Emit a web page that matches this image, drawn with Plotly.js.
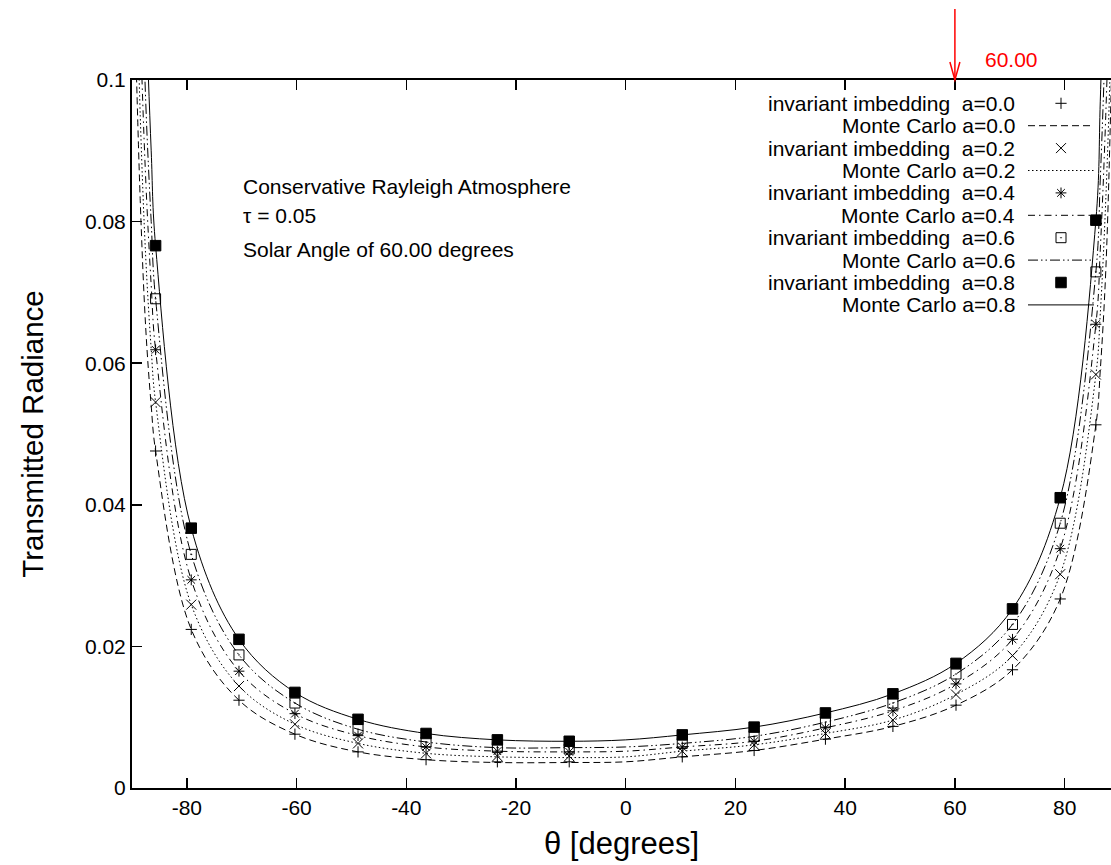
<!DOCTYPE html>
<html>
<head>
<meta charset="utf-8">
<script src="https://cdn.plot.ly/plotly-3.0.1.min.js"></script>
<style>
html,body{margin:0;padding:0;background:#fff;}
#chart{width:1111px;height:865px;}
</style>
</head>
<body>
<div id="chart"></div>
<script>
// ---- data ----
const thetaII = [-85.7, -79.2, -70.5, -60.3, -48.8, -36.4, -23.4, -10.3, 10.3, 23.4, 36.4, 48.7, 60.2, 70.5, 79.2, 85.7];
const ii_a00 = [0.0476, 0.0224, 0.0124, 0.0076, 0.0051, 0.0040, 0.0037, 0.0037, 0.0044, 0.0053, 0.0069, 0.0087, 0.0117, 0.0167, 0.0267, 0.0513];
const ii_a02 = [0.0545, 0.0259, 0.0144, 0.0090, 0.0063, 0.0049, 0.0045, 0.0045, 0.0052, 0.0061, 0.0077, 0.0096, 0.0132, 0.0187, 0.0302, 0.0584];
const ii_a04 = [0.0619, 0.0294, 0.0165, 0.0105, 0.0074, 0.0058, 0.0052, 0.0051, 0.0058, 0.0066, 0.0085, 0.0109, 0.0147, 0.0210, 0.0338, 0.0655];
const ii_a06 = [0.0691, 0.0330, 0.0188, 0.0120, 0.0083, 0.0065, 0.0057, 0.0055, 0.0063, 0.0073, 0.0093, 0.0120, 0.0161, 0.0231, 0.0374, 0.0729];
const ii_a08 = [0.0766, 0.0367, 0.0210, 0.0135, 0.0097, 0.0077, 0.0068, 0.0066, 0.0075, 0.0086, 0.0106, 0.0133, 0.0176, 0.0253, 0.0410, 0.0802];

const thetaMC = [-89.5, -88.5, -87.5, -86.5, -85.7, -79.2, -70.5, -60.3, -48.8, -36.4, -23.4, -10.3, 0, 10.3, 23.4, 36.4, 48.7, 60.2, 70.5, 79.2, 85.7, 86.5, 87.5, 88.5, 89.5];
const mc_a00 = [0.110, 0.083, 0.065, 0.054, 0.0476, 0.0224, 0.0124, 0.0076, 0.0051, 0.0040, 0.0036, 0.0036, 0.0037, 0.0044, 0.0053, 0.0069, 0.0087, 0.0117, 0.0167, 0.0267, 0.0513, 0.059, 0.073, 0.099, 0.135];
const mc_a02 = [0.125, 0.095, 0.075, 0.062, 0.0545, 0.0259, 0.0144, 0.0090, 0.0063, 0.0049, 0.0044, 0.0043, 0.0044, 0.0052, 0.0061, 0.0077, 0.0096, 0.0132, 0.0187, 0.0302, 0.0584, 0.067, 0.083, 0.107, 0.145];
const mc_a04 = [0.140, 0.108, 0.086, 0.071, 0.0619, 0.0294, 0.0165, 0.0105, 0.0074, 0.0058, 0.0052, 0.0051, 0.0052, 0.0058, 0.0066, 0.0085, 0.0109, 0.0147, 0.0210, 0.0338, 0.0655, 0.076, 0.095, 0.122, 0.165];
const mc_a06 = [0.165, 0.125, 0.097, 0.080, 0.0691, 0.0330, 0.0188, 0.0120, 0.0083, 0.0065, 0.0057, 0.0057, 0.0058, 0.0063, 0.0073, 0.0093, 0.0120, 0.0161, 0.0231, 0.0374, 0.0729, 0.086, 0.108, 0.140, 0.190];
const mc_a08 = [0.190, 0.145, 0.112, 0.090, 0.0766, 0.0367, 0.0210, 0.0135, 0.0097, 0.0077, 0.0068, 0.0066, 0.0068, 0.0075, 0.0086, 0.0106, 0.0133, 0.0176, 0.0253, 0.0410, 0.0802, 0.097, 0.127, 0.165, 0.220];

const xTicks = [-80, -60, -40, -20, 0, 20, 40, 60, 80];
const yTicks = [0, 0.02, 0.04, 0.06, 0.08, 0.1];
const yTickText = ['0', '0.02', '0.04', '0.06', '0.08', '0.1'];

const iiLabels = ['invariant imbedding\u00a0 a=0.0', 'invariant imbedding\u00a0 a=0.2', 'invariant imbedding\u00a0 a=0.4', 'invariant imbedding\u00a0 a=0.6', 'invariant imbedding\u00a0 a=0.8'];
const mcLabels = ['Monte Carlo a=0.0', 'Monte Carlo a=0.2', 'Monte Carlo a=0.4', 'Monte Carlo a=0.6', 'Monte Carlo a=0.8'];
const infoLines = ['Conservative Rayleigh Atmosphere', '\u03c4 = 0.05', 'Solar Angle of 60.00 degrees'];
const solarAngle = 60;
const solarLabel = '60.00';

// ---- styles ----
const FONT = 'Liberation Sans, Arial, Helvetica, sans-serif';
const symbols = ['cross-thin-open', 'x-thin-open', 'asterisk-open', 'square-open-dot', 'square'];
const msizes = [8, 10, 9, 10, 10.5];
const dashes = ['7px,4px', '1.5px,2.5px', '7px,4px,1.5px,4px', '10px,3px,1.5px,3px,1.5px,3px', 'solid'];
const iiData = [ii_a00, ii_a02, ii_a04, ii_a06, ii_a08];
const mcData = [mc_a00, mc_a02, mc_a04, mc_a06, mc_a08];

// plot-area geometry in pixels
const L = 132, T = 80, B = 77, W = 1111, H = 865;
const PW = W - L, PH = H - T - B;
const px2x = p => (p - L) / PW;
const py2y = p => (H - B - p) / PH;

const traces = [];
for (let i = 0; i < 5; i++) {
  traces.push({
    x: thetaMC, y: mcData[i], type: 'scatter', mode: 'lines',
    line: {color: '#000', width: 1, dash: dashes[i], shape: 'spline', smoothing: 1},
    showlegend: false, hoverinfo: 'skip'
  });
}
for (let i = 0; i < 5; i++) {
  traces.push({
    x: thetaII, y: iiData[i], type: 'scatter', mode: 'markers',
    marker: {symbol: symbols[i], size: msizes[i], color: '#000', line: {color: '#000', width: 1}},
    showlegend: false, hoverinfo: 'skip', cliponaxis: true
  });
}

// custom gnuplot-style key (text right-aligned, sample on the right)
const keyTop = 103.3, keyStep = 22.4, keyTextRight = 1016, keyMarkX = 1061, keyLineX0 = 1028, keyLineX1 = 1094;
const KEYFONT = 21;
const annotations = [];
const shapes = [];
for (let i = 0; i < 5; i++) {
  const yI = keyTop + keyStep * (2 * i);
  const yM = keyTop + keyStep * (2 * i + 1);
  annotations.push({xref: 'paper', yref: 'paper', x: px2x(keyTextRight), y: py2y(yI), xanchor: 'right', yanchor: 'middle',
    text: iiLabels[i], showarrow: false, borderpad: 0, font: {family: FONT, size: KEYFONT, color: '#000'}});
  annotations.push({xref: 'paper', yref: 'paper', x: px2x(keyTextRight), y: py2y(yM), xanchor: 'right', yanchor: 'middle',
    text: mcLabels[i], showarrow: false, borderpad: 0, font: {family: FONT, size: KEYFONT, color: '#000'}});
  traces.push({
    x: [px2x(keyMarkX)], y: [py2y(yI)], xaxis: 'x2', yaxis: 'y2', type: 'scatter', mode: 'markers',
    marker: {symbol: symbols[i], size: msizes[i], color: '#000', line: {color: '#000', width: 1}},
    showlegend: false, hoverinfo: 'skip'
  });
  traces.push({
    x: [px2x(keyLineX0), px2x(keyLineX1)], y: [py2y(yM), py2y(yM)], xaxis: 'x2', yaxis: 'y2', type: 'scatter', mode: 'lines',
    line: {color: '#000', width: 1, dash: dashes[i]},
    showlegend: false, hoverinfo: 'skip'
  });
}

// info text
const infoY = [187, 215, 250];
for (let i = 0; i < infoLines.length; i++) {
  annotations.push({xref: 'paper', yref: 'paper', x: px2x(242), y: py2y(infoY[i]), xanchor: 'left', yanchor: 'middle',
    text: infoLines[i], showarrow: false, borderpad: 0, font: {family: FONT, size: 21, color: '#000'}});
}

// solar angle arrow + label
shapes.push({type: 'line', xref: 'x', yref: 'paper', x0: solarAngle, x1: solarAngle, y0: py2y(80), y1: py2y(9),
  line: {color: '#ff0000', width: 1.5}});
shapes.push({type: 'path', xref: 'x', yref: 'paper', xsizemode: 'pixel', ysizemode: 'pixel', xanchor: solarAngle, yanchor: py2y(80),
  path: 'M-5,18 L0,0 L5,18', line: {color: '#ff0000', width: 1.5}});
annotations.push({xref: 'paper', yref: 'paper', x: px2x(983), y: py2y(59), xanchor: 'left', yanchor: 'middle',
  text: solarLabel, showarrow: false, font: {family: FONT, size: 21, color: '#ff0000'}});

const layout = {
  width: W, height: H,
  margin: {l: L, r: 0, t: T, b: B, pad: 0},
  paper_bgcolor: '#fff', plot_bgcolor: '#fff',
  showlegend: false,
  font: {family: FONT, size: 21, color: '#000'},
  xaxis: {
    range: [-90, -90 + PW / 5.486], tickvals: xTicks, ticktext: xTicks.map(String),
    ticks: 'inside', ticklen: 10, tickwidth: 1.5, tickcolor: '#000',
    showline: true, linecolor: '#000', linewidth: 2, mirror: 'ticks',
    showgrid: false, zeroline: false,
    tickfont: {family: FONT, size: 21, color: '#000'},
    title: {text: '\u03b8 [degrees]', font: {family: FONT, size: 31, color: '#000'}, standoff: 14}
  },
  yaxis: {
    range: [0, 0.1], tickvals: yTicks, ticktext: yTickText,
    ticks: 'inside', ticklen: 10, tickwidth: 1.5, tickcolor: '#000',
    showline: true, linecolor: '#000', linewidth: 2, mirror: false,
    showgrid: false, zeroline: false,
    tickfont: {family: FONT, size: 21, color: '#000'},
    title: {text: 'Transmitted Radiance', font: {family: FONT, size: 29.5, color: '#000'}, standoff: 33}
  },
  xaxis2: {overlaying: 'x', range: [0, 1], visible: false, fixedrange: true},
  yaxis2: {overlaying: 'y', range: [0, 1], visible: false, fixedrange: true},
  annotations: annotations,
  shapes: shapes
};

Plotly.newPlot('chart', traces, layout, {displayModeBar: false, staticPlot: true});
</script>
</body>
</html>
